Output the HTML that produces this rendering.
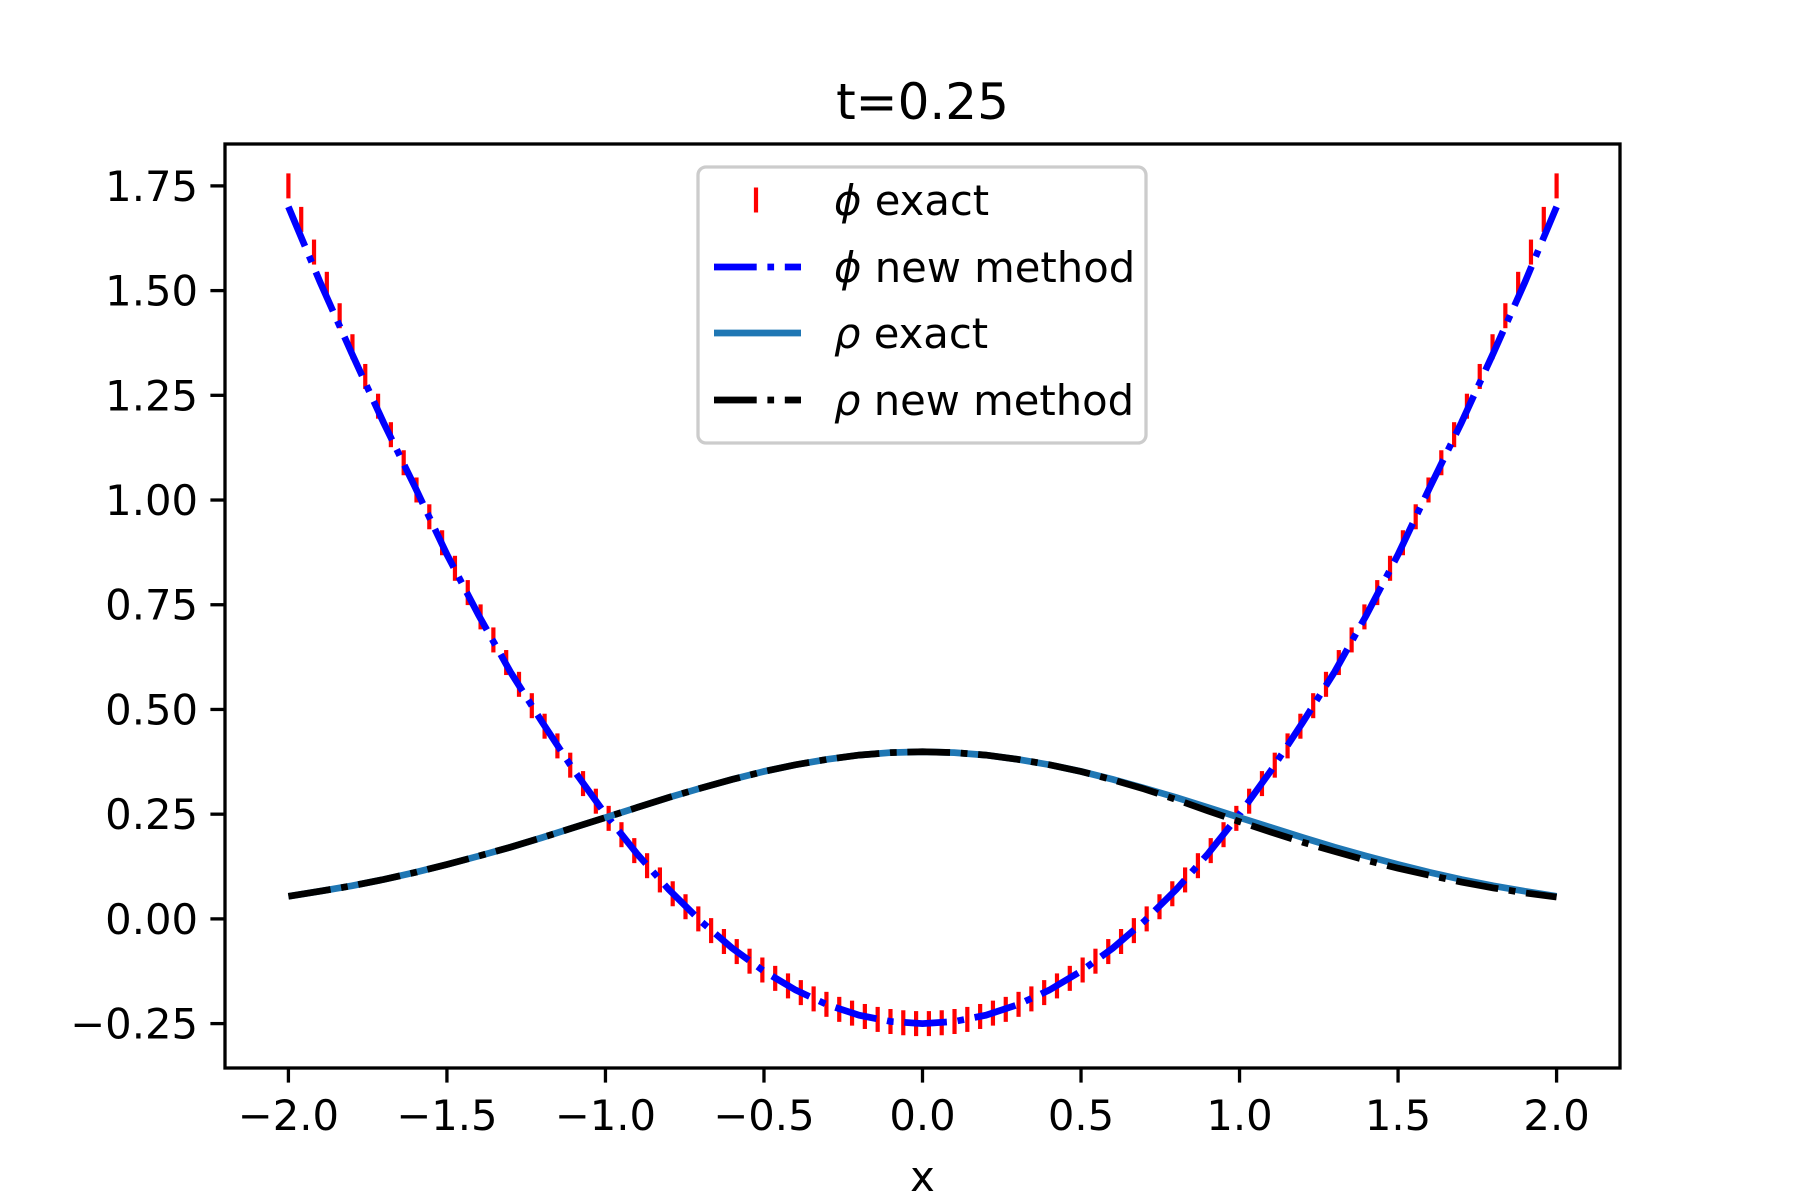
<!DOCTYPE html>
<html><head><meta charset="utf-8">
<style>
html,body{margin:0;padding:0;background:#fff;}
svg{display:block;}
text{font-family:"DejaVu Sans","Liberation Sans",sans-serif;}
</style></head>
<body>
<svg id="chart" width="1800" height="1200" viewBox="0 0 1800 1200" xmlns="http://www.w3.org/2000/svg">
  <rect x="0" y="0" width="1800" height="1200" fill="#fff"/>
  <text x="922.5" y="119" font-size="50" text-anchor="middle">t=0.25</text>
  <g id="plot"></g>
  <g id="axes"></g>
  <text x="922.5" y="1191" font-size="41.7" text-anchor="middle">x</text>
  <g id="legend"></g>
</svg>
<script>
const markerX = [-2.0000,-1.9596,-1.9192,-1.8788,-1.8384,-1.7980,-1.7576,-1.7172,-1.6768,-1.6364,-1.5960,-1.5556,-1.5152,-1.4747,-1.4343,-1.3939,-1.3535,-1.3131,-1.2727,-1.2323,-1.1919,-1.1515,-1.1111,-1.0707,-1.0303,-0.9899,-0.9495,-0.9091,-0.8687,-0.8283,-0.7879,-0.7475,-0.7071,-0.6667,-0.6263,-0.5859,-0.5455,-0.5051,-0.4646,-0.4242,-0.3838,-0.3434,-0.3030,-0.2626,-0.2222,-0.1818,-0.1414,-0.1010,-0.0606,-0.0202,0.0202,0.0606,0.1010,0.1414,0.1818,0.2222,0.2626,0.3030,0.3434,0.3838,0.4242,0.4646,0.5051,0.5455,0.5859,0.6263,0.6667,0.7071,0.7475,0.7879,0.8283,0.8687,0.9091,0.9495,0.9899,1.0303,1.0707,1.1111,1.1515,1.1919,1.2323,1.2727,1.3131,1.3535,1.3939,1.4343,1.4747,1.5152,1.5556,1.5960,1.6364,1.6768,1.7172,1.7576,1.7980,1.8384,1.8788,1.9192,1.9596,2.0000];
const phiExact = [1.750,1.670,1.592,1.515,1.440,1.366,1.295,1.224,1.156,1.089,1.024,0.960,0.898,0.837,0.779,0.721,0.666,0.612,0.560,0.509,0.460,0.413,0.367,0.323,0.281,0.240,0.201,0.163,0.127,0.093,0.060,0.029,0.000,-0.028,-0.054,-0.078,-0.101,-0.122,-0.142,-0.160,-0.176,-0.191,-0.204,-0.216,-0.225,-0.233,-0.240,-0.245,-0.248,-0.250,-0.250,-0.248,-0.245,-0.240,-0.233,-0.225,-0.216,-0.204,-0.191,-0.176,-0.160,-0.142,-0.122,-0.101,-0.078,-0.054,-0.028,0.000,0.029,0.060,0.093,0.127,0.163,0.201,0.240,0.281,0.323,0.367,0.413,0.460,0.509,0.560,0.612,0.666,0.721,0.779,0.837,0.898,0.960,1.024,1.089,1.156,1.224,1.295,1.366,1.440,1.515,1.592,1.670,1.750];
const lineX = [-2.0,-1.9,-1.8,-1.7,-1.6,-1.5,-1.4,-1.3,-1.2,-1.1,-1.0,-0.9,-0.8,-0.7,-0.6,-0.5,-0.4,-0.3,-0.2,-0.1,0.0,0.1,0.2,0.3,0.4,0.5,0.6,0.7,0.8,0.9,1.0,1.1,1.2,1.3,1.4,1.5,1.6,1.7,1.8,1.9,2.0];
const phiNew = [1.70,1.52,1.35,1.185,1.03,0.87,0.725,0.59,0.47,0.355,0.25,0.155,0.07,-0.005,-0.07,-0.125,-0.17,-0.205,-0.23,-0.245,-0.25,-0.245,-0.23,-0.205,-0.17,-0.125,-0.07,-0.005,0.07,0.155,0.25,0.355,0.47,0.59,0.725,0.87,1.03,1.185,1.35,1.52,1.70];
const rhoExact = [0.054,0.066,0.079,0.094,0.111,0.130,0.150,0.171,0.194,0.218,0.242,0.266,0.290,0.312,0.333,0.352,0.368,0.381,0.391,0.397,0.399,0.397,0.391,0.381,0.368,0.352,0.333,0.312,0.290,0.266,0.242,0.218,0.194,0.171,0.150,0.130,0.111,0.094,0.079,0.066,0.054];
const rhoNew = [0.054,0.066,0.079,0.094,0.111,0.130,0.150,0.171,0.194,0.218,0.242,0.266,0.290,0.312,0.333,0.352,0.368,0.381,0.391,0.397,0.399,0.397,0.391,0.381,0.368,0.352,0.332,0.310,0.285,0.258,0.232,0.207,0.183,0.161,0.140,0.121,0.104,0.088,0.074,0.062,0.052];
const xTicks = [-2.0,-1.5,-1.0,-0.5,0.0,0.5,1.0,1.5,2.0];
const xTickLabels = ["−2.0","−1.5","−1.0","−0.5","0.0","0.5","1.0","1.5","2.0"];
const yTicks = [-0.25,0,0.25,0.5,0.75,1.0,1.25,1.5,1.75];
const yTickLabels = ["−0.25","0.00","0.25","0.50","0.75","1.00","1.25","1.50","1.75"];

const NS="http://www.w3.org/2000/svg";
const L=225,R=1620,T=144,B=1068;
const xMin=-2.2,xMax=2.2,yMin=-0.356,yMax=1.85;
const sx=v=>L+(v-xMin)/(xMax-xMin)*(R-L);
const sy=v=>B-(v-yMin)/(yMax-yMin)*(B-T);
function mk(tag,attrs,parent){const e=document.createElementNS(NS,tag);for(const k in attrs)e.setAttribute(k,attrs[k]);parent.appendChild(e);return e;}
const plot=document.getElementById('plot'),axes=document.getElementById('axes'),leg=document.getElementById('legend');
const lw=6.7,dash="42.7 10.7 6.7 10.7";
function pathD(xs,ys){return xs.map((x,i)=>(i?'L':'M')+sx(x).toFixed(2)+' '+sy(ys[i]).toFixed(2)).join(' ');}
markerX.forEach((x,i)=>{
  const m=mk('line',{x1:sx(x),x2:sx(x),y1:sy(phiExact[i])-12.5,y2:sy(phiExact[i])+12.5,stroke:'#ff0000','stroke-width':4.2},plot);
  
  
});
const p1=mk('path',{d:pathD(lineX,phiNew),fill:'none',stroke:'#0000ff','stroke-width':lw,'stroke-dasharray':dash},plot);


const p2=mk('path',{d:pathD(lineX,rhoExact),fill:'none',stroke:'#1f77b4','stroke-width':lw},plot);


const p3=mk('path',{d:pathD(lineX,rhoNew),fill:'none',stroke:'#000000','stroke-width':lw,'stroke-dasharray':dash},plot);


const fr=mk('rect',{x:L,y:T,width:R-L,height:B-T,fill:'none',stroke:'#000','stroke-width':3.3},axes);


xTicks.forEach((v,i)=>{
  const t=mk('line',{x1:sx(v),x2:sx(v),y1:B,y2:B+14.6,stroke:'#000','stroke-width':3.3},axes);
  
  
  const tx=mk('text',{x:sx(v),y:B+62,'font-size':41.7,'text-anchor':'middle'},axes);
  tx.textContent=xTickLabels[i];
  
  
});
yTicks.forEach((v,i)=>{
  const t=mk('line',{x1:L-14.6,x2:L,y1:sy(v),y2:sy(v),stroke:'#000','stroke-width':3.3},axes);
  
  
  const tx=mk('text',{x:L-27,y:sy(v)+15,'font-size':41.7,'text-anchor':'end'},axes);
  tx.textContent=yTickLabels[i];
  
  
});
const lb=mk('rect',{x:698,y:167,width:448,height:276,rx:8,fill:'#fff','fill-opacity':0.8,stroke:'#cccccc','stroke-width':3.3},leg);


const rows=[
 {y:215,label:'exact',sym:'ϕ',type:'marker'},
 {y:282,label:'new method',sym:'ϕ',type:'blue'},
 {y:348,label:'exact',sym:'ρ',type:'rho'},
 {y:415,label:'new method',sym:'ρ',type:'black'}];
rows.forEach(r=>{
  const g=mk('g',{},leg);
  
  
  const cy=r.y-15;
  if(r.type==='marker') mk('line',{x1:756,x2:756,y1:cy-12.5,y2:cy+12.5,stroke:'#ff0000','stroke-width':4.2},g);
  if(r.type==='blue') mk('line',{x1:714,x2:801,y1:cy,y2:cy,stroke:'#0000ff','stroke-width':lw,'stroke-dasharray':dash},g);
  if(r.type==='rho') mk('line',{x1:714,x2:801,y1:cy,y2:cy,stroke:'#1f77b4','stroke-width':lw},g);
  if(r.type==='black') mk('line',{x1:714,x2:801,y1:cy,y2:cy,stroke:'#000','stroke-width':lw,'stroke-dasharray':dash},g);
  const t=mk('text',{x:834,y:r.y,'font-size':41.7},g);
  const s=mk('tspan',{'font-style':'italic'},t); s.textContent=r.sym;
  const u=mk('tspan',{},t); u.textContent=' '+r.label;
});
</script>
</body></html>
